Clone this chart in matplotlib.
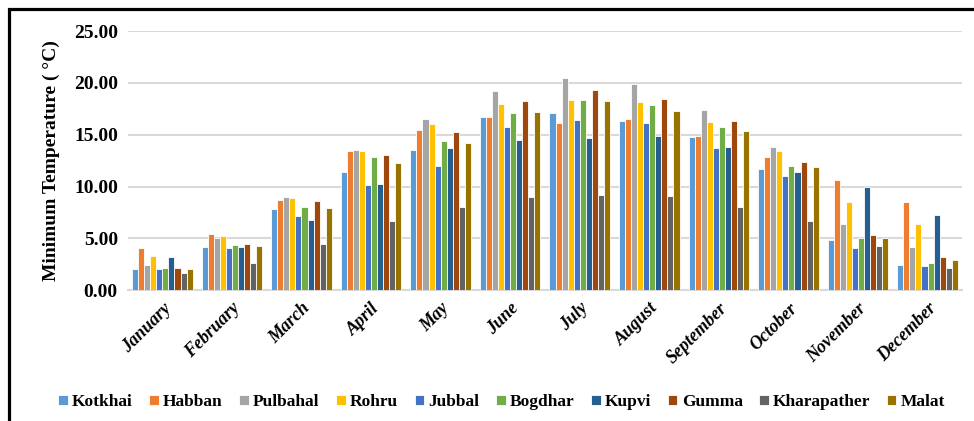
import numpy as np
import matplotlib
matplotlib.use("Agg")
import matplotlib.pyplot as plt
from matplotlib.patches import Rectangle

months = ["January", "February", "March", "April", "May", "June", "July",
          "August", "September", "October", "November", "December"]
stations = ["Kotkhai", "Habban", "Pulbahal", "Rohru", "Jubbal", "Bogdhar",
            "Kupvi", "Gumma", "Kharapather", "Malat"]
colors = ["#5B9BD5", "#ED7D31", "#A5A5A5", "#FFC000", "#4472C4", "#70AD47",
          "#255E91", "#9E480E", "#636363", "#997300"]

kotkhai = [2.0, 4.15, 7.8, 11.4, 13.5, 16.7, 17.1, 16.3, 14.75, 11.65, 4.8, 2.4]
habban = [4.05, 5.4, 8.7, 13.4, 15.45, 16.7, 16.1, 16.5, 14.9, 12.85, 10.6, 8.5]
pulbahal = [2.4, 5.05, 9.0, 13.5, 16.55, 19.2, 20.5, 19.9, 17.4, 13.85, 6.35, 4.2]
rohru = [3.25, 5.2, 8.9, 13.4, 16.0, 18.0, 18.35, 18.2, 16.2, 13.4, 8.5, 6.35]
jubbal = [2.0, 4.05, 7.15, 10.1, 12.0, 15.7, 16.4, 16.1, 13.7, 11.05, 4.05, 2.3]
bogdhar = [2.1, 4.35, 8.05, 12.85, 14.4, 17.1, 18.35, 17.9, 15.75, 12.0, 5.0, 2.6]
kupvi = [3.15, 4.15, 6.8, 10.2, 13.7, 14.5, 14.7, 14.85, 13.85, 11.4, 9.95, 7.25]
gumma = [2.1, 4.4, 8.6, 13.0, 15.3, 18.3, 19.35, 18.45, 16.3, 12.4, 5.3, 3.15]
kharapather = [1.6, 2.6, 4.45, 6.65, 8.0, 8.95, 9.15, 9.1, 8.05, 6.7, 4.25, 2.15]
malat = [2.0, 4.25, 7.9, 12.3, 14.2, 17.2, 18.3, 17.3, 15.4, 11.85, 5.05, 2.9]

series = [kotkhai, habban, pulbahal, rohru, jubbal, bogdhar,
          kupvi, gumma, kharapather, malat]

plt.rcParams['font.family'] = ['Liberation Serif', 'DejaVu Serif']

fig = plt.figure(figsize=(9.74, 4.21), dpi=100)
ax = fig.add_axes([0.131, 0.311, 0.857, 0.615])

x = np.arange(len(months))
n = len(series)
w = 0.87 / n
for i, (name, vals) in enumerate(zip(stations, series)):
    ax.bar(x - 0.435 + w * (i + 0.5), vals, width=w, color=colors[i],
           edgecolor="white", linewidth=0.6, label=name, zorder=3)

ax.set_xlim(-0.5, len(months) - 0.5)
ax.set_ylim(0, 25)
ax.set_yticks(np.arange(0, 26, 5))
ax.set_yticklabels([f"{v:.2f}" for v in np.arange(0, 26, 5)],
                   fontsize=14, fontweight="bold")
ax.set_xticks(x)
ax.set_xticklabels(months, rotation=45, ha="right", rotation_mode="anchor",
                   fontsize=13, fontweight="bold", fontstyle="italic")
ax.tick_params(length=0, pad=7)
ax.grid(axis="y", color="#D9D9D9", linewidth=1.5, zorder=0)
for s in ["top", "right", "left"]:
    ax.spines[s].set_visible(False)
ax.spines["bottom"].set_color("#D9D9D9")
ax.spines["bottom"].set_linewidth(1.5)
ax.set_ylabel("Minimum Temperature ( °C)", fontsize=14, fontweight="bold",
              labelpad=10)

ax.legend(loc="center", bbox_to_anchor=(0.515, 0.045),
          bbox_transform=fig.transFigure, ncol=10, frameon=False,
          prop={"weight": "bold", "size": 12.5}, handlelength=0.55,
          handleheight=0.55, handletextpad=0.25, columnspacing=0.95)

# black frame (top and left visible)
fig.patches.append(Rectangle((9 / 974, -0.2), 1.2, 1.2 - 9 / 421,
                             transform=fig.transFigure, fill=False,
                             edgecolor="black", linewidth=2.3))

fig.savefig("out.png", dpi=100)
